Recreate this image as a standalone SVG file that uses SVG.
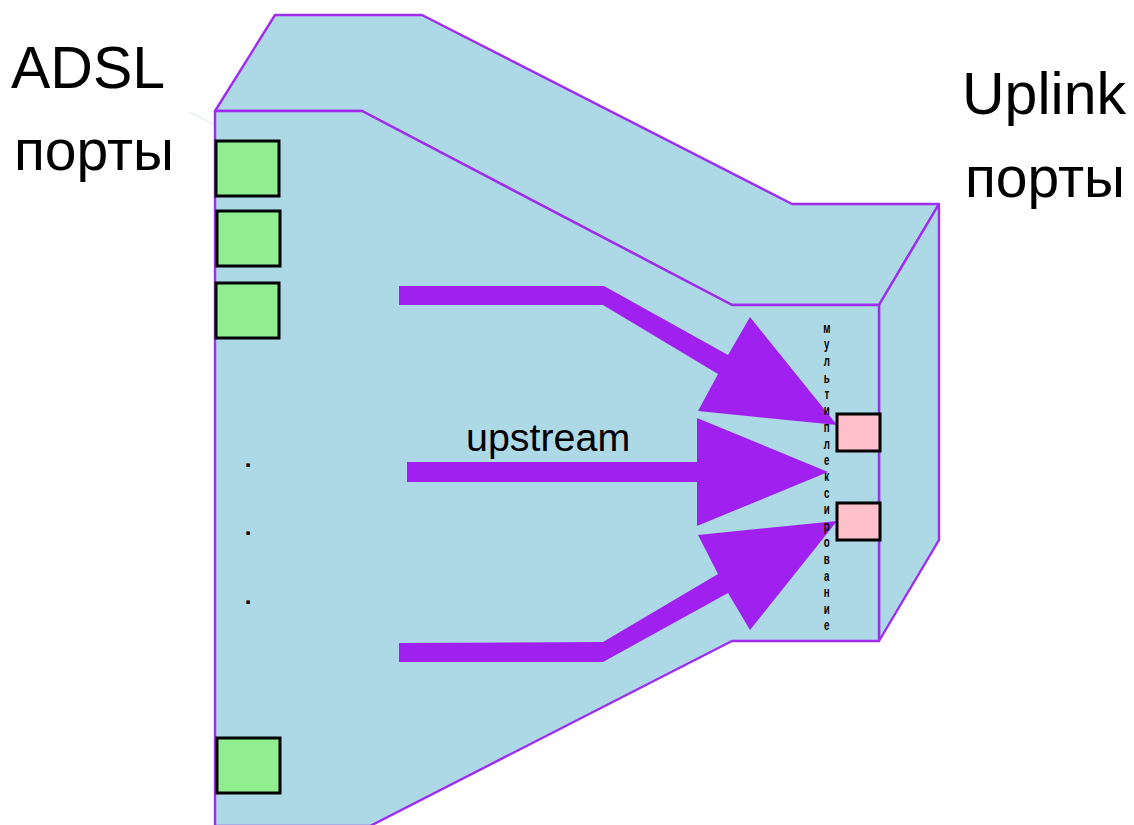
<svg xmlns="http://www.w3.org/2000/svg" width="1134" height="825" viewBox="0 0 1134 825">
<style>
.face{fill:#add8e6;stroke:#a02cf0;stroke-width:2.4;stroke-linejoin:round}
.arrow{fill:#a020f0;stroke:none}
.adsl{fill:#90ee90;stroke:#000;stroke-width:3}
.up{fill:#ffc0cb;stroke:#000;stroke-width:3}
text{font-family:"Liberation Sans",Arial,sans-serif;fill:#000}
.big{font-size:57px}
.big2{font-size:59px}
.mid{font-size:39.4px}
.dot{font-size:24px;font-weight:bold;text-anchor:middle}
.v{font-size:15px;font-weight:bold;text-anchor:middle}
</style>
<rect width="1134" height="825" fill="#fff"/>
<g id="chassis">
<line x1="190" y1="112" x2="214" y2="125" stroke="#d5ebf3" stroke-width="1"/>
<polygon class="face" points="215,111 275,15 422,15 792,204 939,204 879,305 732,305 362,111"/>
<polygon class="face" points="879,305 939,204 939,540 879,641"/>
<polygon class="face" points="215,111 362,111 732,305 879,305 879,641 732,641 370,826 215,826"/>
</g>
<g id="connectors">
<polygon class="arrow" points="399,286 604,286 728,355 750,317 837,425 698,411 718,374 603,305 399,305"/>
<polygon class="arrow" points="407,462 697,462 697,418 828,472 697,526 697,482 407,482"/>
<polygon class="arrow" points="399,643 603,642 718,574 698,535 837,521 750,630 728,593 603,662 399,662"/>
</g>
<g id="adsl-port-1"><rect class="adsl" x="216" y="141" width="63" height="55"/></g>
<g id="adsl-port-2"><rect class="adsl" x="217" y="211" width="63" height="55"/></g>
<g id="adsl-port-3"><rect class="adsl" x="216" y="283" width="63" height="55"/></g>
<g id="adsl-port-4"><rect class="adsl" x="217" y="738" width="63" height="55"/></g>
<g id="uplink-port-1"><rect class="up" x="837" y="414" width="43" height="37"/></g>
<g id="uplink-port-2"><rect class="up" x="837" y="503" width="43" height="37"/></g>
<g id="labels">
<text class="big2" x="11" y="88">ADSL</text>
<text class="big" x="14" y="170">порты</text>
<text class="big2" x="962" y="113.500">Uplink</text>
<text class="big" x="965" y="196.500">порты</text>
<text class="mid" x="466" y="451">upstream</text>
<text class="dot" x="248" y="467">.</text>
<text class="dot" x="248" y="535">.</text>
<text class="dot" x="248" y="604">.</text>
<text class="v" transform="scale(.65,1)"><tspan x="1272" y="333">м</tspan><tspan x="1272" y="349">у</tspan><tspan x="1272" y="366">л</tspan><tspan x="1272" y="383">ь</tspan><tspan x="1272" y="399">т</tspan><tspan x="1272" y="415">и</tspan><tspan x="1272" y="432">п</tspan><tspan x="1272" y="449">л</tspan><tspan x="1272" y="465">е</tspan><tspan x="1272" y="481">к</tspan><tspan x="1272" y="498">с</tspan><tspan x="1272" y="514">и</tspan><tspan x="1272" y="531">р</tspan><tspan x="1272" y="547">о</tspan><tspan x="1272" y="564">в</tspan><tspan x="1272" y="581">а</tspan><tspan x="1272" y="597">н</tspan><tspan x="1272" y="614">и</tspan><tspan x="1272" y="630">е</tspan></text>
</g>
</svg>
